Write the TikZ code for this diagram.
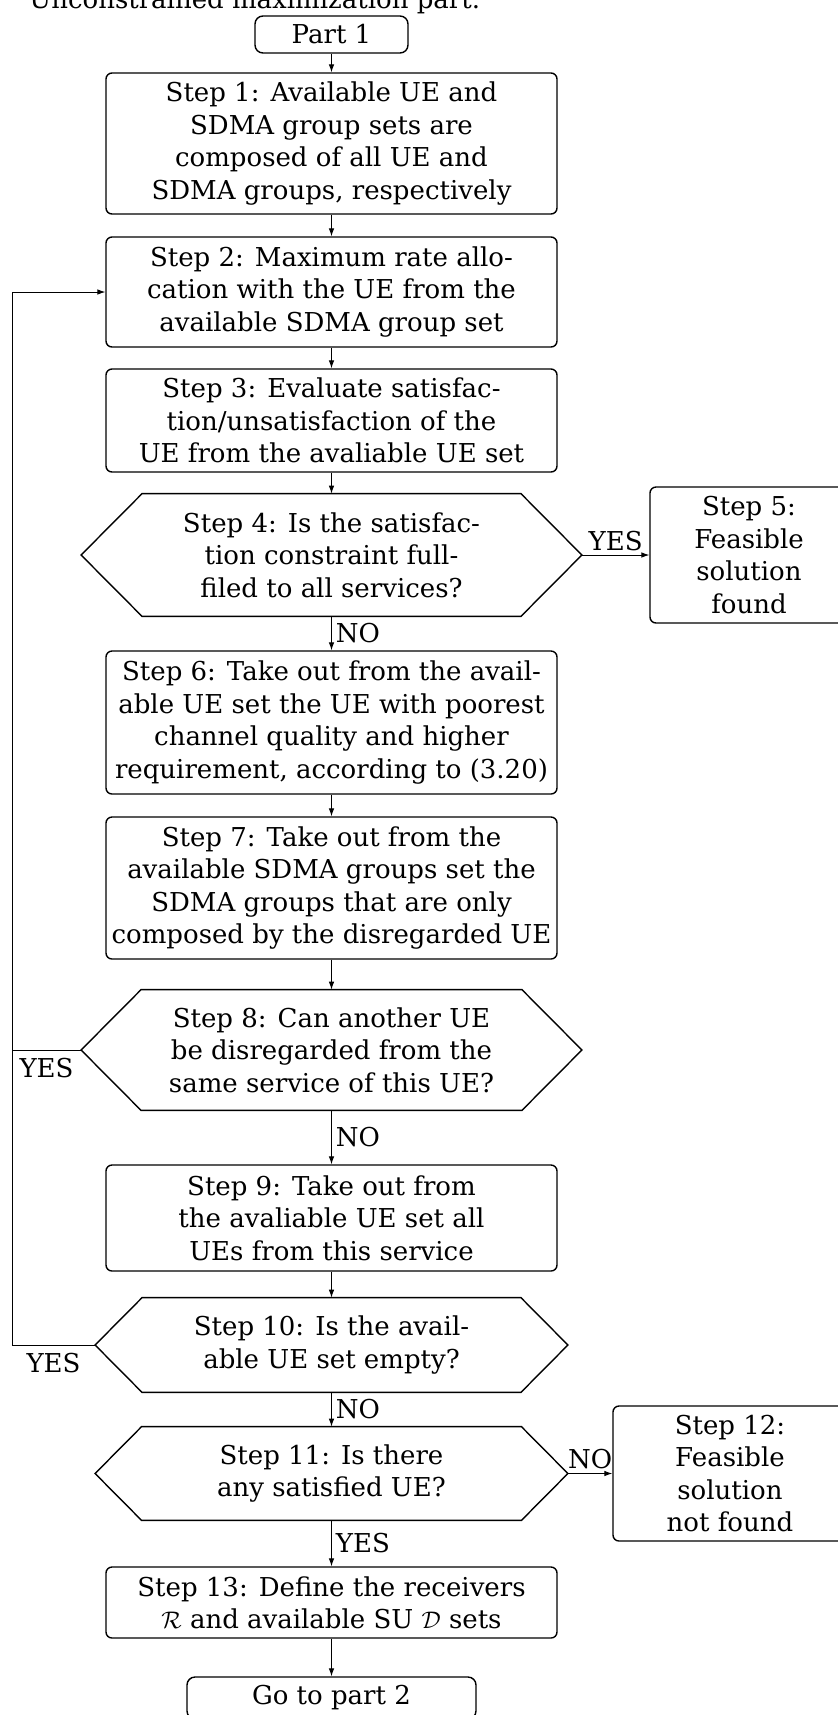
\documentclass[tikz,border=0pt]{standalone}
\usepackage{fontspec}
\setmainfont{DejaVu Serif}
\usetikzlibrary{arrows.meta}
\newcommand{\steptext}{\fontsize{13pt}{16.2pt}\selectfont}
\tikzset{
  stepbox/.style={
    rounded corners=3pt,draw=black,line width=.7pt,
    minimum width=225.5pt,inner sep=2pt,align=center,font=\steptext
  },
  termbox/.style={stepbox,rounded corners=4pt,minimum width=76.5pt,minimum height=18.5pt},
  decision/.style={inner sep=2pt,align=center,font=\steptext},
  border/.style={draw=black,line width=.7pt},
  arrow/.style={-{Latex[length=4pt,width=2.8pt]},draw=black,line width=.45pt},
  link/.style={draw=black,line width=.45pt},
  answer/.style={inner sep=2pt,font=\steptext}
}

\begin{document}
\begin{tikzpicture}[x=0.5pt,y=-0.5pt]
\useasboundingbox (0,0) rectangle (837,1715);
\node[anchor=base west,inner sep=0pt,font=\steptext] (title) at (29,8) {Unconstrained maximization part.};
\node[termbox] (p1) at (331.5,34.5) {Part 1};
\node[stepbox,minimum height=70.5pt] (s1) at (331.5,143.5)
{Step 1: Available UE and\\SDMA group sets are\\composed of all UE and\\SDMA groups, respectively};
\node[stepbox,minimum height=55pt] (s2) at (331.5,292)
{Step 2: Maximum rate allo-\\cation with the UE from the\\available SDMA group set};
\node[stepbox,minimum height=51.5pt] (s3) at (331.5,420.5)
{Step 3: Evaluate satisfac-\\tion/unsatisfaction of the\\UE from the avaliable UE set};
\node[decision,minimum width=250pt,minimum height=61pt] (s4) at (331.5,555)
{Step 4: Is the satisfac-\\tion constraint full-\\filed to all services?};
\node[stepbox,minimum width=99pt,minimum height=68pt] (s5) at (749,555)
{Step 5:\\Feasible\\solution\\found};
\node[stepbox,minimum height=71.5pt] (s6) at (331.5,722.5)
{Step 6: Take out from the avail-\\able UE set the UE with poorest\\channel quality and higher\\requirement, according to (3.20)};
\node[stepbox,minimum height=71pt] (s7) at (331.5,888)
{Step 7: Take out from the\\available SDMA groups set the\\SDMA groups that are only\\composed by the disregarded UE};
\node[decision,minimum width=250pt,minimum height=60pt] (s8) at (331.5,1050)
{Step 8: Can another UE\\be disregarded from the\\same service of this UE?};
\node[stepbox,minimum height=53pt] (s9) at (331.5,1218)
{Step 9: Take out from\\the avaliable UE set all\\UEs from this service};
\node[decision,minimum width=236pt,minimum height=47pt] (s10) at (331.5,1345)
{Step 10: Is the avail-\\able UE set empty?};
\node[decision,minimum width=236pt,minimum height=46.5pt] (s11) at (331.5,1473.5)
{Step 11: Is there\\any satisfied UE?};
\node[stepbox,minimum width=117pt,minimum height=67.5pt] (s12) at (730,1473.5)
{Step 12:\\Feasible\\solution\\not found};
\node[stepbox,minimum height=35.5pt] (s13) at (331.5,1602.5)
{Step 13: Define the receivers\\$\mathcal{R}$ and available SU $\mathcal{D}$ sets};
\node[termbox,minimum width=144.5pt,minimum height=21pt] (p2) at (331.5,1698) {Go to part 2};
% hexagon outlines of the decisions
\foreach \n/\s in {s4/30.5pt,s8/30pt,s10/23.5pt,s11/23.25pt}
  \draw[border] (\n.west) -- ([xshift=\s]\n.north west) -- ([xshift=-\s]\n.north east)
    -- (\n.east) -- ([xshift=-\s]\n.south east) -- ([xshift=\s]\n.south west) -- cycle;
\coordinate (back) at (12,292);
\draw[arrow] (p1)--(s1);
\draw[arrow] (s1)--(s2);
\draw[arrow] (s2)--(s3);
\draw[arrow] (s3)--(s4);
\draw[arrow] (s4.east) -- node[answer,above]{YES} (s5.west);
\draw[arrow] (s4)-- node[answer,right]{NO} (s6);
\draw[arrow] (s6)--(s7);
\draw[arrow] (s7)--(s8);
\draw[arrow] (s8)-- node[answer,right]{NO} (s9);
\draw[arrow] (s9)--(s10);
\draw[arrow] (s10)-- node[answer,right]{NO} (s11);
\draw[arrow] (s11.east) -- node[answer,above]{NO} (s12.west);
\draw[arrow] (s11)-- node[answer,right]{YES} (s13);
\draw[arrow] (s13)--(p2);
\draw[link] (s8.west) -- node[answer,below,inner sep=4pt]{YES} (s8.west -| back);
\draw[arrow] (s10.west) -- node[answer,below,inner sep=4pt]{YES} (s10.west -| back) -- (back) -- (s2.west);
\end{tikzpicture}
\end{document}
